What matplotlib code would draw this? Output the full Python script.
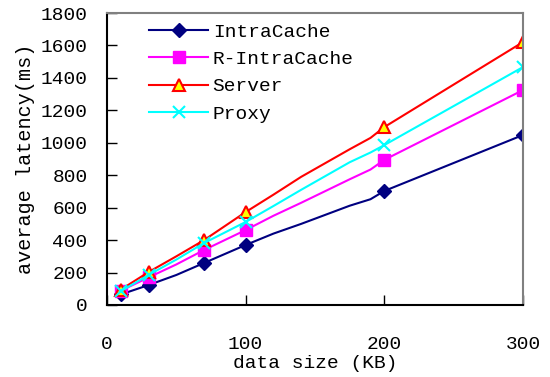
import matplotlib.pyplot as plt

# data
sizes = [10, 30, 50, 70, 100, 120, 140, 175, 190, 200, 300]
marked = [0, 1, 3, 4, 9, 10]
intracache = [65, 123, 185, 259, 370, 440, 500, 612, 652, 703, 1048]
r_intracache = [88, 170, 250, 339, 462, 550, 630, 775, 835, 895, 1325]
server = [95, 203, 300, 400, 573, 680, 790, 960, 1030, 1097, 1621]
proxy = [85, 185, 280, 382, 512, 610, 710, 880, 940, 986, 1467]

plt.rcParams['font.family'] = ['Liberation Mono', 'DejaVu Sans']

fig = plt.figure(figsize=(5.5, 3.77), dpi=100)
ax = fig.add_axes([0.1945, 0.191, 0.7565, 0.7745])

ax.plot(sizes, intracache, color='#000080', lw=1.5, marker='D', ms=7,
        markevery=marked, label='IntraCache')
ax.plot(sizes, r_intracache, color='#ff00ff', lw=1.5, marker='s', ms=8,
        markevery=marked, label='R-IntraCache')
ax.plot(sizes, server, color='#ff0000', lw=1.5, marker='^', ms=9,
        mfc='#ffff00', mec='#ff0000', mew=1.5, markevery=marked, label='Server')
ax.plot(sizes, proxy, color='#00ffff', lw=1.5, marker='x', ms=9, mew=1.5,
        markevery=marked, label='Proxy')

ax.set_xlim(0, 300)
ax.set_ylim(0, 1800)
ax.set_xticks([0, 100, 200, 300])
ax.set_yticks(range(0, 1801, 200))
ax.tick_params(direction='in', length=7, width=1, labelsize=14)
ax.tick_params(axis='x', pad=22)
ax.tick_params(axis='y', pad=14)
ax.set_xlabel('data size (KB)', fontsize=14, labelpad=2)
ax.set_ylabel('average latency(ms)', fontsize=14.5, labelpad=4)

for s in ['top', 'right']:
    ax.spines[s].set_color('#808080')
    ax.spines[s].set_linewidth(1.5)
for s in ['left', 'bottom']:
    ax.spines[s].set_linewidth(1.5)

ax.legend(loc='upper left', bbox_to_anchor=(0.06, 1.025), frameon=False,
          fontsize=14, handlelength=3.0, labelspacing=0.5, handletextpad=0.25)

fig.savefig('out.png', dpi=100)
